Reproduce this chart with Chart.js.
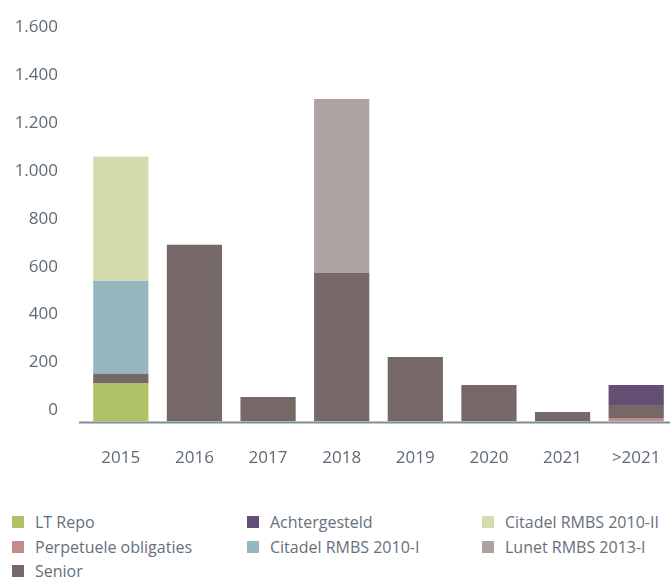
<!DOCTYPE html>
<html lang="nl">
<head>
<meta charset="utf-8">
<title>Looptijden funding</title>
<script src="https://cdn.jsdelivr.net/npm/chart.js@4/dist/chart.umd.min.js"></script>
<style>
  body { margin: 0; background: #fff; font-family: "Open Sans", sans-serif; }
  #wrap { position: relative; width: 670px; height: 577px; overflow: hidden; }
  #legend {
    position: absolute; left: 12px; top: 510px;
    display: grid;
    grid-template-rows: repeat(3, 24.5px);
    grid-template-columns: 235px 235px 180px;
    font-size: 16px; color: #66707a;
  }
  #legend .item { display: flex; align-items: center; white-space: nowrap; }
  #legend .box { width: 12px; height: 12px; margin-right: 11px; flex: none; }
</style>
</head>
<body>
<div id="wrap">
  <canvas id="myChart" width="673" height="480"></canvas>
  <div id="legend"></div>
</div>
<script>
const years = ['2015', '2016', '2017', '2018', '2019', '2020', '2021', '>2021'];

// bedragen per looptijdjaar, van onder naar boven gestapeld
const ltRepo        = [161, 0, 0, 0, 0, 0, 0, 0];
const perpetuele    = [0, 0, 0, 0, 0, 0, 0, 15];
const senior        = [38, 737, 102, 620, 269, 152, 40, 54];
const achtergesteld = [0, 0, 0, 0, 0, 0, 0, 83];
const citadelI      = [388, 0, 0, 0, 0, 0, 0, 0];
const citadelII     = [519, 0, 0, 0, 0, 0, 0, 0];
const lunet         = [0, 0, 0, 726, 0, 0, 0, 0];

const yTicks = [0, 200, 400, 600, 800, 1000, 1200, 1400, 1600];

// aantal legenda-items per kolom
const legendCols = [3, 2, 2];

function fmt(v) {
  return String(v).replace(/\B(?=(\d{3})+(?!\d))/g, '.');
}

// basislijn onder de staven, iets links van het plotgebied beginnend
const baseLine = {
  id: 'baseLine',
  afterDatasetsDraw(chart) {
    const {ctx, chartArea, scales: {y}} = chart;
    const py = y.getPixelForValue(0) + 1;
    ctx.save();
    ctx.strokeStyle = '#7e8e99';
    ctx.lineWidth = 2;
    ctx.beginPath();
    ctx.moveTo(chartArea.left - 5, py);
    ctx.lineTo(chartArea.right, py);
    ctx.stroke();
    ctx.restore();
  }
};

const ctx = document.getElementById('myChart').getContext('2d');
const chart = new Chart(ctx, {
  type: 'bar',
  data: {
    labels: years,
    datasets: [
      {label: 'LT Repo', data: ltRepo, backgroundColor: '#afc266'},
      {label: 'Perpetuele obligaties', data: perpetuele, backgroundColor: '#c48b8d'},
      {label: 'Senior', data: senior, backgroundColor: '#756866'},
      {label: 'Achtergesteld', data: achtergesteld, backgroundColor: '#634f74'},
      {label: 'Citadel RMBS 2010-I', data: citadelI, backgroundColor: '#96b6c0'},
      {label: 'Citadel RMBS 2010-II', data: citadelII, backgroundColor: '#d4dcad'},
      {label: 'Lunet RMBS 2013-I', data: lunet, backgroundColor: '#ada4a1'}
    ]
  },
  options: {
    responsive: false,
    animation: false,
    layout: {padding: {top: 38, right: 0, left: 0, bottom: 0}},
    datasets: {bar: {barPercentage: 0.75, categoryPercentage: 1, borderWidth: 0}},
    plugins: {legend: {display: false}, tooltip: {enabled: false}},
    scales: {
      x: {
        stacked: true,
        grid: {display: false, drawTicks: false},
        border: {display: false},
        afterFit(scale) { scale.height = 58.5; },
        ticks: {
          color: '#5f6a74',
          padding: 12,
          font: {family: 'Open Sans', size: 17, lineHeight: 2.9}
        }
      },
      y: {
        stacked: true,
        min: 0,
        max: 1600,
        grid: {display: false, drawTicks: false},
        border: {display: false},
        afterFit(scale) { scale.width = 84; },
        afterBuildTicks(scale) { scale.ticks = yTicks.map(v => ({value: v})); },
        ticks: {
          color: '#5f6a74',
          padding: 26,
          labelOffset: -11,
          font: {family: 'Open Sans', size: 17},
          callback: v => fmt(v)
        }
      }
    }
  },
  plugins: [baseLine]
});

// legenda in drie kolommen, kolomsgewijs gevuld
const legend = document.getElementById('legend');
let idx = 0;
legendCols.forEach((count, col) => {
  for (let row = 0; row < count; row++, idx++) {
    const ds = chart.data.datasets[idx];
    const item = document.createElement('div');
    item.className = 'item';
    item.style.gridColumn = col + 1;
    item.style.gridRow = row + 1;
    const box = document.createElement('span');
    box.className = 'box';
    box.style.background = ds.backgroundColor;
    item.appendChild(box);
    item.appendChild(document.createTextNode(ds.label));
    legend.appendChild(item);
  }
});
</script>
</body>
</html>
